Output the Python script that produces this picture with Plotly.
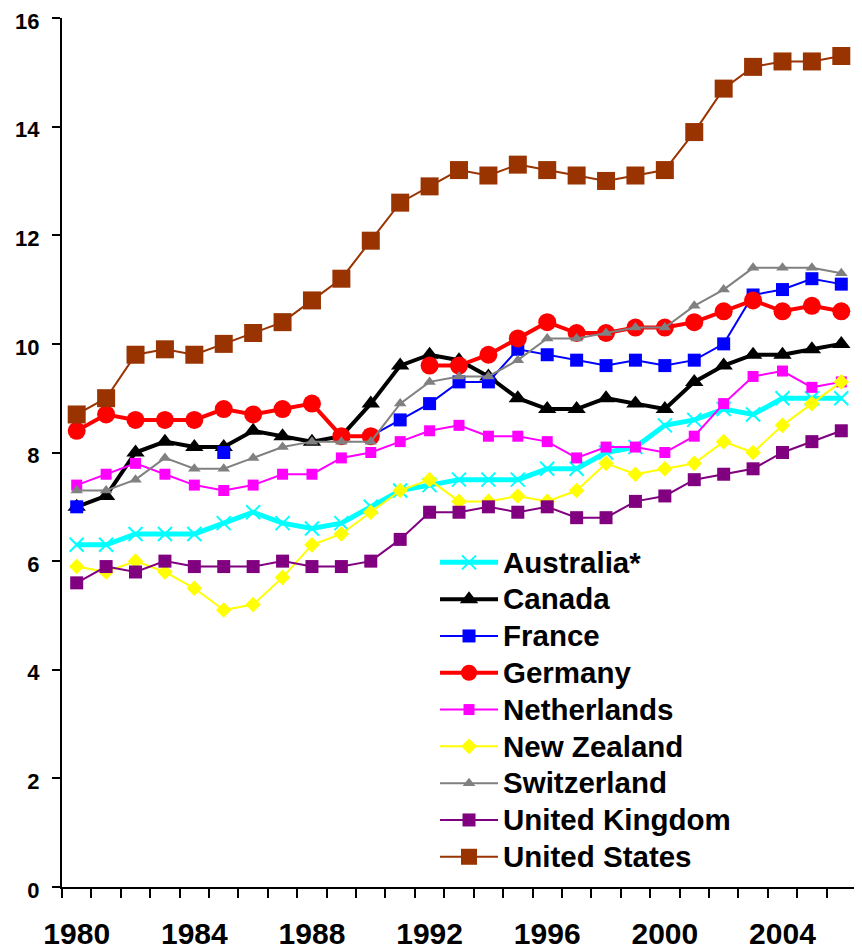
import plotly.graph_objects as go

years = list(range(1980, 2007))

australia = [6.3, 6.3, 6.5, 6.5, 6.5, 6.7, 6.9, 6.7, 6.6, 6.7, 7.0, 7.3, 7.4, 7.5, 7.5, 7.5,
             7.7, 7.7, 8.0, 8.1, 8.5, 8.6, 8.8, 8.7, 9.0, 9.0, 9.0]
canada = [7.0, 7.2, 8.0, 8.2, 8.1, 8.1, 8.4, 8.3, 8.2, 8.3, 8.9, 9.6, 9.8, 9.7, 9.4, 9.0,
          8.8, 8.8, 9.0, 8.9, 8.8, 9.3, 9.6, 9.8, 9.8, 9.9, 10.0]
france = [7.0, None, None, None, None, 8.0, None, None, None, None, 8.3, 8.6, 8.9, 9.3, 9.3, 9.9,
          9.8, 9.7, 9.6, 9.7, 9.6, 9.7, 10.0, 10.9, 11.0, 11.2, 11.1]
germany = [8.4, 8.7, 8.6, 8.6, 8.6, 8.8, 8.7, 8.8, 8.9, 8.3, 8.3, None, 9.6, 9.6, 9.8, 10.1,
           10.4, 10.2, 10.2, 10.3, 10.3, 10.4, 10.6, 10.8, 10.6, 10.7, 10.6]
netherlands = [7.4, 7.6, 7.8, 7.6, 7.4, 7.3, 7.4, 7.6, 7.6, 7.9, 8.0, 8.2, 8.4, 8.5, 8.3, 8.3,
               8.2, 7.9, 8.1, 8.1, 8.0, 8.3, 8.9, 9.4, 9.5, 9.2, 9.3]
new_zealand = [5.9, 5.8, 6.0, 5.8, 5.5, 5.1, 5.2, 5.7, 6.3, 6.5, 6.9, 7.3, 7.5, 7.1, 7.1, 7.2,
               7.1, 7.3, 7.8, 7.6, 7.7, 7.8, 8.2, 8.0, 8.5, 8.9, 9.3]
switzerland = [7.3, 7.3, 7.5, 7.9, 7.7, 7.7, 7.9, 8.1, 8.2, 8.2, 8.2, 8.9, 9.3, 9.4, 9.4, 9.7,
               10.1, 10.1, 10.2, 10.3, 10.3, 10.7, 11.0, 11.4, 11.4, 11.4, 11.3]
united_kingdom = [5.6, 5.9, 5.8, 6.0, 5.9, 5.9, 5.9, 6.0, 5.9, 5.9, 6.0, 6.4, 6.9, 6.9, 7.0, 6.9,
                  7.0, 6.8, 6.8, 7.1, 7.2, 7.5, 7.6, 7.7, 8.0, 8.2, 8.4]
united_states = [8.7, 9.0, 9.8, 9.9, 9.8, 10.0, 10.2, 10.4, 10.8, 11.2, 11.9, 12.6, 12.9, 13.2, 13.1, 13.3,
                 13.2, 13.1, 13.0, 13.1, 13.2, 13.9, 14.7, 15.1, 15.2, 15.2, 15.3]

series_names = ["Australia*", "Canada", "France", "Germany", "Netherlands",
                "New Zealand", "Switzerland", "United Kingdom", "United States"]
series_values = [australia, canada, france, germany, netherlands,
                 new_zealand, switzerland, united_kingdom, united_states]

x_tick_labels = [1980, 1984, 1988, 1992, 1996, 2000, 2004]
y_ticks = [0, 2, 4, 6, 8, 10, 12, 14, 16]

styles = {
    "Australia*": dict(color="#00FFFF", width=5, symbol="x-thin", size=14, mlw=2),
    "Canada": dict(color="#000000", width=4, symbol="triangle-up", size=16, mlw=0),
    "France": dict(color="#0000FF", width=2, symbol="square", size=13, mlw=0),
    "Germany": dict(color="#FF0000", width=4, symbol="circle", size=18, mlw=0),
    "Netherlands": dict(color="#FF00FF", width=2, symbol="square", size=11, mlw=0),
    "New Zealand": dict(color="#FFFF00", width=2, symbol="diamond", size=12, mlw=0),
    "Switzerland": dict(color="#808080", width=2, symbol="triangle-up", size=11, mlw=0),
    "United Kingdom": dict(color="#800080", width=2, symbol="square", size=13, mlw=0),
    "United States": dict(color="#993300", width=2, symbol="square", size=18, mlw=0),
}

fig = go.Figure()
for name, vals in zip(series_names, series_values):
    s = styles[name]
    fig.add_trace(go.Scatter(
        x=years, y=vals, mode="lines+markers", connectgaps=False,
        name='<span style="font-size:29.5px">' + name + '</span>',
        line=dict(color=s["color"], width=s["width"]),
        marker=dict(symbol=s["symbol"], size=s["size"], color=s["color"],
                    line=dict(color=s["color"], width=s["mlw"])),
    ))

# page body has an 8px default margin, so the figure is sized/offset accordingly
fig.update_layout(
    width=854, height=942,
    margin=dict(l=54, r=6, t=10, b=63, autoexpand=False),
    paper_bgcolor="white", plot_bgcolor="white",
    font=dict(family="Liberation Sans, Arial", color="black", weight="bold"),
    showlegend=True,
    legend=dict(
        x=0.4698, y=0.4005, xanchor="left", yanchor="top",
        bgcolor="rgba(0,0,0,0)", font=dict(size=26, weight="bold"),
        itemwidth=58, tracegroupgap=0,
    ),
    xaxis=dict(
        range=[1979.5, 2006.5], showgrid=False, zeroline=False, automargin=False,
        showline=True, linecolor="black", linewidth=2,
        tickmode="array", tickvals=x_tick_labels,
        ticktext=[str(v) for v in x_tick_labels],
        ticks="outside", ticklen=9, tickcolor="rgba(0,0,0,0)",
        ticklabelstandoff=10, ticklabeloverflow="allow",
        tickfont=dict(size=30, weight="bold"),
        minor=dict(tickmode="array", tickvals=[y - 0.5 for y in years] + [2006.5],
                   ticks="outside", ticklen=9, tickwidth=2, tickcolor="black", showgrid=False),
    ),
    yaxis=dict(
        range=[0, 16], showgrid=False, zeroline=False, automargin=False,
        showline=True, linecolor="black", linewidth=2,
        tickmode="array", tickvals=y_ticks,
        ticks="outside", ticklen=8, tickwidth=2, tickcolor="black",
        ticklabelstandoff=8, ticklabelshift=3, ticklabeloverflow="allow",
        tickfont=dict(size=22, weight="bold"),
    ),
)

fig.write_html("out.html")
